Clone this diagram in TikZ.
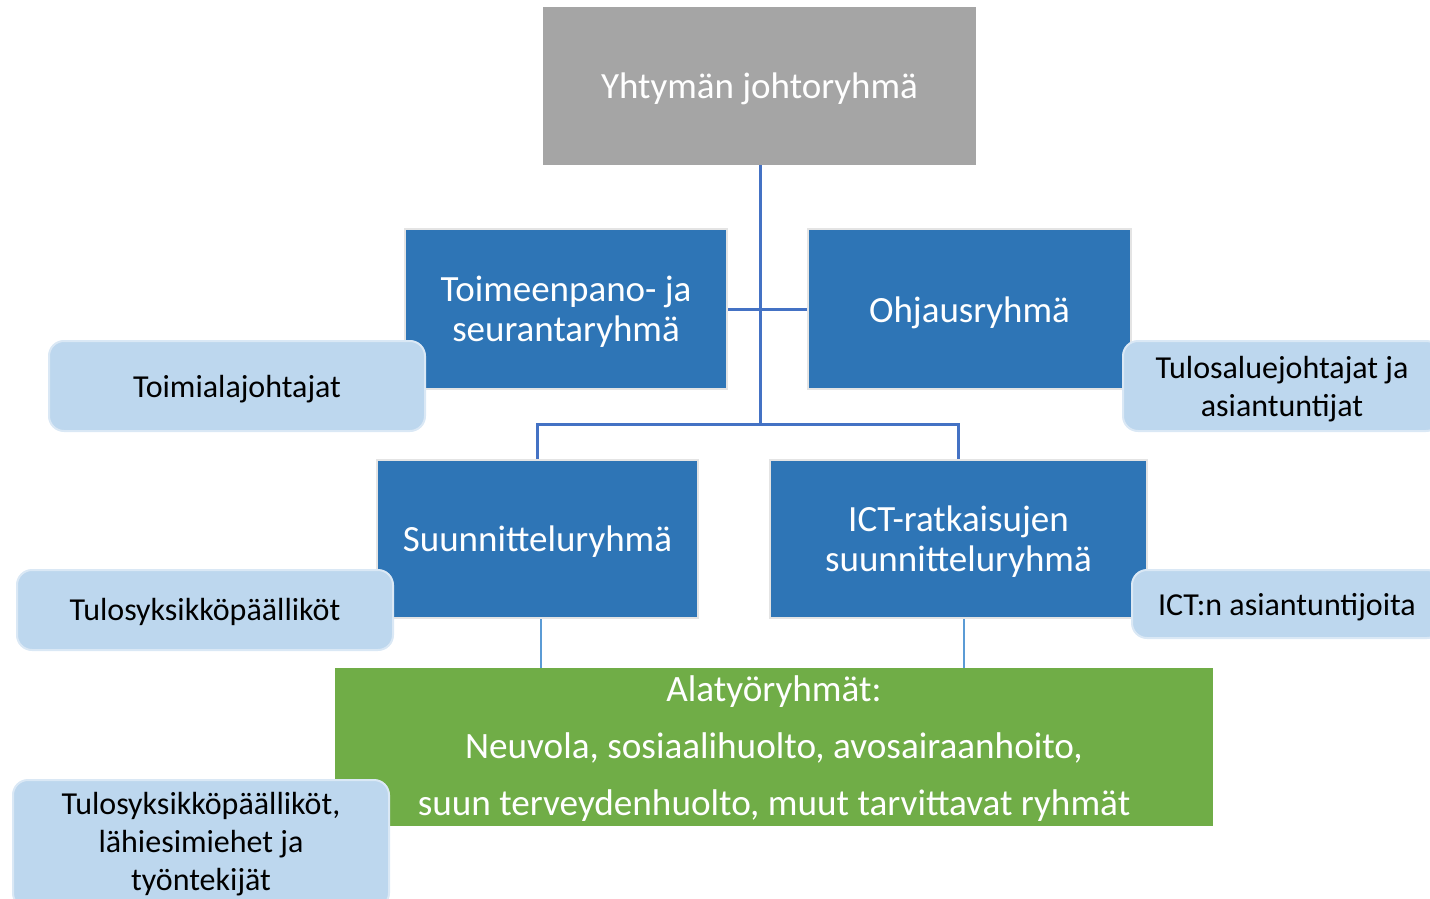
\documentclass[tikz,border=0pt]{standalone}
\usepackage{fontspec}
\setmainfont{Carlito}
\definecolor{grayfill}{HTML}{A5A5A5}
\definecolor{bluefill}{HTML}{2E75B6}
\definecolor{greenfill}{HTML}{70AD47}
\definecolor{lightfill}{HTML}{BDD7EE}
\definecolor{lightedge}{HTML}{DAE8F5}
\definecolor{conn}{HTML}{4472C4}
\definecolor{thinconn}{HTML}{5B9BD5}
\definecolor{boxedge}{HTML}{E4E4E4}
\tikzset{
  x=0.5pt, y=-0.5pt,
  mainbox/.style={rectangle, draw=boxedge, line width=1pt, fill=bluefill, inner sep=0pt},
  topbox/.style={rectangle, fill=grayfill, inner sep=0pt},
  greenbox/.style={rectangle, fill=greenfill, inner sep=0pt},
  sidebox/.style={rectangle, rounded corners=7.5pt, draw=lightedge, line width=1pt, fill=lightfill, inner sep=0pt},
  maintext/.style={text=white, font=\fontsize{18.5pt}{20pt}\selectfont, align=center, inner sep=0pt},
  greentext/.style={text=white, font=\fontsize{18.6pt}{28.5pt}\selectfont, align=center, inner sep=0pt},
  sidetext/.style={text=black, font=\fontsize{16pt}{19pt}\selectfont, align=center, inner sep=0pt},
  link/.style={draw=conn, line width=1.5pt},
  thinlink/.style={draw=thinconn, line width=0.8pt}
}
\begin{document}
\begin{tikzpicture}
\path[use as bounding box] (0,0) rectangle (1430,899);
\clip (0,0) rectangle (1430,899);
% main boxes
\node[topbox, minimum width=216.5pt, minimum height=79pt] (top) at (759.5,86) {};
\node[maintext] (topT) at ([yshift=-1.5pt]top.center) {Yhtymän johtoryhmä};
\node[mainbox, minimum width=161pt, minimum height=80pt] (toim) at (566,309) {};
\node[maintext] (toimT) at ([yshift=-1.3pt]toim.center) {Toimeenpano- ja\\seurantaryhmä};
\node[mainbox, minimum width=161.5pt, minimum height=80pt] (ohj) at (969.5,309) {};
\node[maintext] (ohjT) at ([yshift=-1.8pt]ohj.center) {Ohjausryhmä};
\node[mainbox, minimum width=160.5pt, minimum height=79pt] (suun) at (537.5,539) {};
\node[maintext] (suunT) at ([yshift=-1.2pt]suun.center) {Suunnitteluryhmä};
\node[mainbox, minimum width=188.5pt, minimum height=79pt] (ict) at (958.5,539) {};
\node[maintext] (ictT) at ([yshift=-1.3pt]ict.center) {ICT-ratkaisujen\\suunnitteluryhmä};
\node[greenbox, minimum width=439pt, minimum height=79pt] (green) at (774,747) {};
\node[greentext] (greenT) at ([yshift=-1pt]green.center) {Alatyöryhmät:\\Neuvola, sosiaalihuolto, avosairaanhoito,\\suun terveydenhuolto, muut tarvittavat ryhmät};
% side boxes
\node[sidebox, minimum width=188pt, minimum height=45pt] (s1) at (237,386) {};
\node[sidetext] (s1T) at ([yshift=-1.5pt]s1.center) {Toimialajohtajat};
\node[sidebox, minimum width=159pt, minimum height=45pt] (s2) at (1282,386) {};
\node[sidetext] (s2T) at ([yshift=-1.7pt]s2.center) {Tulosaluejohtajat ja\\asiantuntijat};
\node[sidebox, minimum width=188pt, minimum height=40pt] (s3) at (205,610) {};
\node[sidetext] (s3T) at ([yshift=-1pt]s3.center) {Tulosyksikköpäälliköt};
\node[sidebox, minimum width=155pt, minimum height=34pt] (s4) at (1287,604) {};
\node[sidetext] (s4T) at ([yshift=-1.8pt]s4.center) {ICT:n asiantuntijoita};
\node[sidebox, minimum width=188pt, minimum height=64pt] (s5) at (201,844) {};
\node[sidetext] (s5T) at (s5.center) {Tulosyksikköpäälliköt,\\lähiesimiehet ja\\työntekijät};
% connectors
\coordinate (j) at (760,424);
\draw[link] ([xshift=0.25pt]top.south) -- (j);
\draw[link] (toim.east) -- (ohj.west);
\draw[link] (j) -| (suun.north);
\draw[link] (j) -| (ict.north);
\draw[thinlink] ([xshift=1.75pt]suun.south) -- ([xshift=1.75pt]suun.south |- green.north);
\draw[thinlink] ([xshift=2.75pt]ict.south) -- ([xshift=2.75pt]ict.south |- green.north);
\end{tikzpicture}
\end{document}
